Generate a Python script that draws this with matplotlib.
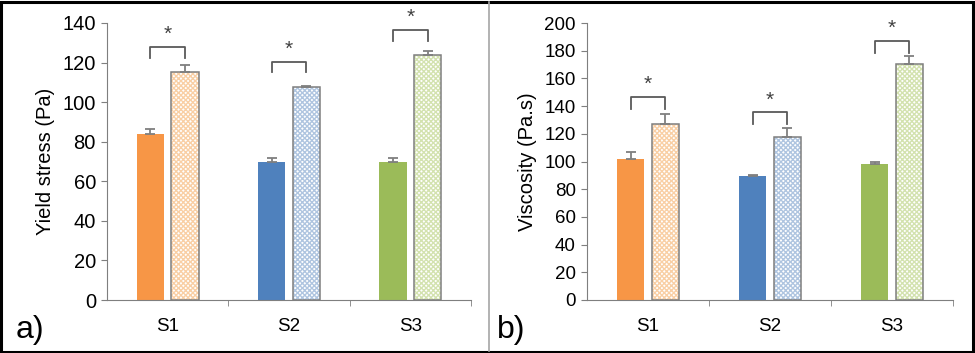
import matplotlib
matplotlib.use('Agg')
import matplotlib.pyplot as plt
import numpy as np
from matplotlib.lines import Line2D
from matplotlib.patches import Rectangle

plt.rcParams['font.family'] = ['Liberation Sans', 'DejaVu Sans']
plt.rcParams['hatch.linewidth'] = 1.0

categories = ['S1', 'S2', 'S3']

yield_ctrl = [84, 70, 69.5]
yield_ctrl_err = [2.5, 2, 2.5]
yield_mod = [115, 107.5, 124]
yield_mod_err = [4, 0.5, 2]
yield_bracket = [128, 120.5, 136.5]

visc_ctrl = [101.5, 89.5, 98]
visc_ctrl_err = [5, 1, 2]
visc_mod = [127, 118, 170.5]
visc_mod_err = [7, 6, 6]
visc_bracket = [146.5, 135.5, 187]

solid_colors = ['#F79646', '#4F81BD', '#9BBB59']
hatch_colors = ['#F9CFA5', '#AFC5E0', '#D3E2AF']
GRAY = '#7F7F7F'

W, H = 975, 353
fig = plt.figure(figsize=(W / 100, H / 100), dpi=100)


def draw_panel(ax, ctrl, ctrl_err, mod, mod_err, bracket, leg, ymax, ystep, ylabel, tick_fs):
    x = np.arange(len(categories))
    off, bw = 0.143, 0.223
    ax.bar(x - off, ctrl, bw, color=solid_colors, zorder=2)
    for xi, v, hc in zip(x + off, mod, hatch_colors):
        ax.bar(xi, v, bw, color='white', edgecolor=hc, hatch='xxxxxxx', linewidth=0, zorder=2)
        ax.bar(xi, v, bw, fill=False, edgecolor=GRAY, linewidth=1.1, zorder=3)
    ax.errorbar(x - off, ctrl, yerr=[np.zeros(3), ctrl_err], fmt='none', ecolor=GRAY,
                elinewidth=1.3, capsize=3.5, capthick=1.3, zorder=4)
    ax.errorbar(x + off, mod, yerr=[np.zeros(3), mod_err], fmt='none', ecolor=GRAY,
                elinewidth=1.3, capsize=3.5, capthick=1.3, zorder=4)
    for xi, top in zip(x, bracket):
        ax.plot([xi - off, xi - off, xi + off, xi + off], [top - leg, top, top, top - leg],
                color='#595959', lw=1.3, zorder=4)
        ax.text(xi, top + 0.01 * ymax, '*', ha='center', va='bottom', fontsize=15, color='#404040')

    ax.set_xlim(-0.5, 2.5)
    ax.set_ylim(0, ymax)
    ax.set_yticks(np.arange(0, ymax + 1, ystep))
    ax.set_xticks(x)
    ax.set_xticklabels(categories)
    ax.set_xticks([0.5, 1.5, 2.5], minor=True)
    ax.tick_params(axis='x', which='major', length=0, pad=13, labelsize=13.5, colors='black')
    ax.tick_params(axis='x', which='minor', length=4, color=GRAY, direction='out')
    ax.tick_params(axis='y', length=4, color=GRAY, labelsize=tick_fs, pad=4)
    for s in ['top', 'right']:
        ax.spines[s].set_visible(False)
    for s in ['left', 'bottom']:
        ax.spines[s].set_color(GRAY)
    ax.set_ylabel(ylabel, fontsize=14.5, labelpad=5)


ax1 = fig.add_axes([107 / W, 1 - 300 / H, (471 - 107) / W, (300 - 23) / H])
draw_panel(ax1, yield_ctrl, yield_ctrl_err, yield_mod, yield_mod_err, yield_bracket, 5.5,
           140, 20, 'Yield stress (Pa)', 14.5)

ax2 = fig.add_axes([587 / W, 1 - 300 / H, (953 - 587) / W, (300 - 23) / H])
draw_panel(ax2, visc_ctrl, visc_ctrl_err, visc_mod, visc_mod_err, visc_bracket, 8.5,
           200, 20, 'Viscosity (Pa.s)', 13.5)

fig.text(16 / W, 1 - 338 / H, 'a)', fontsize=23, va='baseline')
fig.text(497 / W, 1 - 338 / H, 'b)', fontsize=23, va='baseline')

# panel frame and divider
fig.add_artist(Rectangle((1 / W, 1 / H), 1 - 3 / W, 1 - 3 / H, transform=fig.transFigure,
                         fill=False, edgecolor='black', linewidth=2.2))
fig.add_artist(Line2D([489 / W, 489 / W], [2 / H, 1 - 2 / H], transform=fig.transFigure,
                      color='#A6A6A6', linewidth=1.2))

fig.savefig('out.png', dpi=100)
